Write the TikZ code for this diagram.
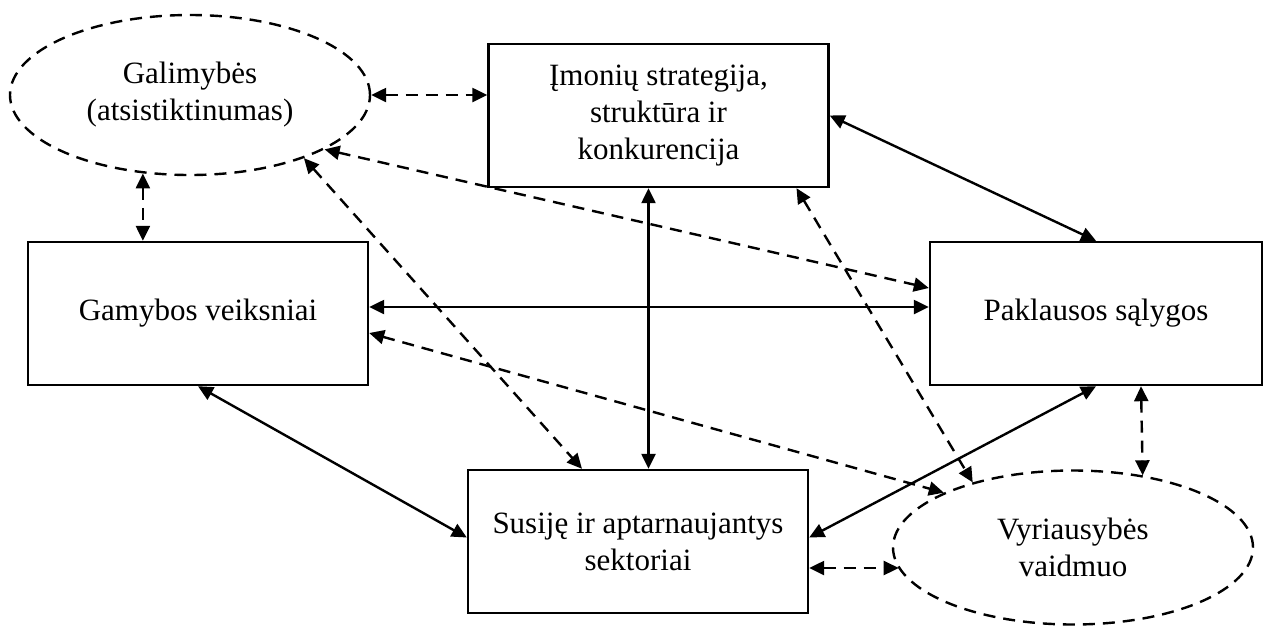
\documentclass[tikz,border=0pt]{standalone}
\usepackage{fontspec}
\setmainfont{Liberation Serif}
\usetikzlibrary{arrows.meta,shapes.geometric}
\tikzset{
  factor/.style={rectangle, draw=black, line width=1.2pt, minimum width=170pt,
    minimum height=71.5pt, align=center, inner sep=0pt},
  chance/.style={ellipse, draw=black, line width=1.2pt, dash pattern=on 6pt off 4pt,
    minimum width=180pt, minimum height=80pt, align=center, inner sep=0pt},
  link/.style={{Triangle[length=7.5pt,width=7pt]}-{Triangle[length=7.5pt,width=7pt]}, line width=1.2pt},
  dlink/.style={link, dash pattern=on 6pt off 4pt}
}
\begin{document}
\begin{tikzpicture}[x=0.5pt, y=-0.5pt, font=\fontsize{15.5}{18.5}\selectfont]
  \useasboundingbox (0,0) rectangle (1264,628);
  \node[chance] (gal) at (190,95) {Galimybės\\(atsistiktinumas)};
  \node[factor] (imon) at (658.5,115.5) {Įmonių strategija,\\struktūra ir\\konkurencija};
  \node[factor] (gam) at (198,313.5) {Gamybos veiksniai};
  \node[factor, minimum width=166pt] (pak) at (1096,313.5) {Paklausos sąlygos};
  \node[factor] (sus) at (638,541.5) {Susiję ir aptarnaujantys\\sektoriai};
  \node[chance, minimum height=77pt] (vyr) at (1073,547.5) {Vyriausybės\\vaidmuo};

  \draw[dlink] (gal.east) -- (gal.east -| imon.west);
  \draw[link] (imon.east) -- (pak.north);
  \draw[dlink] (gal.-121) -- (gal.-121 |- gam.north);
  \draw[dlink] (gal.-22) -- ([yshift=12.75pt]pak.west);
  \draw[dlink] (gal.-29) -- ([xshift=-28pt]sus.north);
  \draw[link] ([xshift=-5pt]imon.south) -- ([xshift=-5pt]imon.south |- sus.north);
  \draw[link] ([yshift=3.25pt]gam.east) -- ([yshift=3.25pt]gam.east -| pak.west);
  \draw[dlink] ([yshift=-9.75pt]gam.east) -- (vyr.157);
  \draw[dlink] ([xshift=69pt]imon.south) -- (vyr.147);
  \draw[link] (gam.south) -- ([yshift=2pt]sus.west);
  \draw[link] (pak.south) -- ([yshift=2pt]sus.east);
  \draw[dlink] ([xshift=22.5pt]pak.south) -- (vyr.46);
  \draw[dlink] ([yshift=-13.25pt]sus.east) -- ([yshift=-13.25pt]sus.east -| vyr.187);
\end{tikzpicture}
\end{document}
